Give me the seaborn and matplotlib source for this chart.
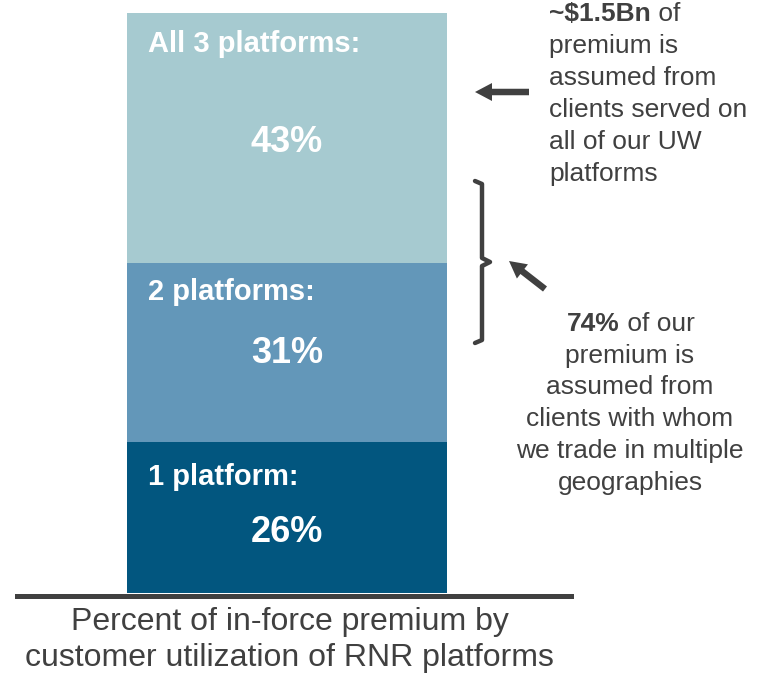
import numpy as np
import pandas as pd
import matplotlib.pyplot as plt
import seaborn as sns
from matplotlib.transforms import Affine2D
from matplotlib.patches import FancyArrow
from matplotlib.lines import Line2D

W, H, DPI = 763, 675, 100

# data
segments = ["1 platform:", "2 platforms:", "All 3 platforms:"]
shares = [26, 31, 43]
seg_colors = ["#02567F", "#6397B9", "#A6CAD0"]
bar_name = "RNR platforms"

note_top_bold = "~$1.5Bn"
note_top = ["of", "premium is", "assumed from", "clients served on", "all of our UW", "platforms"]
note_low_bold = "74%"
note_low = ["of our", "premium is", "assumed from", "clients with whom",
            "we trade in multiple", "geographies"]
caption = ["Percent of in-force premium by", "customer utilization of RNR platforms"]

# label placement inside each segment (distance below top, fraction of height)
label_drop = [7.3, 6.5, 6.7]
pct_frac = [0.34, 0.44, 0.443]

GREY = "#404040"

sns.set_style("white")
plt.rcParams["font.family"] = ["Liberation Sans", "DejaVu Sans"]

fig = plt.figure(figsize=(W / DPI, H / DPI), dpi=DPI)
ax = fig.add_axes([17 / W, 1 - 593.3 / H, 554 / W, 580.3 / H])
# pixel coords measured from the top-left corner
px = Affine2D().scale(1, -1).translate(0, H).scale(1 / DPI) + fig.dpi_scale_trans

df = pd.DataFrame({"segment": segments, "share": shares, "color": seg_colors})
df["top"] = df["share"].cumsum()
df["base"] = df["top"] - df["share"]

# stacked bar: draw cumulative totals, tallest first
for _, row in df.iloc[::-1].iterrows():
    sns.barplot(x=[bar_name], y=[row["top"]], color=row["color"], saturation=1,
                width=0.8, linewidth=0, ax=ax)

ax.set_xlim(-0.675, 0.71)
ax.set_ylim(0, 100)
ax.set(xticks=[], yticks=[], xlabel="", ylabel="")
for s in ["left", "right", "top"]:
    ax.spines[s].set_visible(False)
ax.spines["bottom"].set_color(GREY)
ax.spines["bottom"].set_linewidth(3.6)
ax.spines["bottom"].set_position(("outward", 1.8))

# labels inside the segments
for i, row in df.iterrows():
    ax.text(-0.3475, row["top"] - label_drop[i], row["segment"], color="white",
            fontsize=21, fontweight="bold", va="baseline", ha="left")
    ax.text(0.0, row["base"] + pct_frac[i] * row["share"], f"{row['share']}%",
            color="white", fontsize=26, fontweight="bold", va="baseline", ha="center")

# upper note
t = fig.text(549, 21, note_top_bold, transform=px, fontsize=19, fontweight="bold",
             color=GREY, va="baseline")
ax.annotate(" " + note_top[0], xy=(1, 0), xycoords=t, va="bottom", ha="left",
            fontsize=19, color=GREY, annotation_clip=False)
for i, line in enumerate(note_top[1:], start=1):
    fig.text(549, 21 + 32 * i, line, transform=px, fontsize=19, color=GREY,
             va="baseline", ha="left")

# lower note
t = fig.text(567, 330.7, note_low_bold, transform=px, fontsize=19, fontweight="bold",
             color=GREY, va="baseline")
ax.annotate(" " + note_low[0], xy=(1, 0), xycoords=t, va="bottom", ha="left",
            fontsize=19, color=GREY, annotation_clip=False)
for i, line in enumerate(note_low[1:], start=1):
    fig.text(630, 330.7 + 31.9 * i, line, transform=px, fontsize=19, color=GREY,
             va="baseline", ha="center")

# arrows and bracket
fig.add_artist(FancyArrow(529, 92, -54, 0, width=6.5, head_width=18, head_length=17,
                          length_includes_head=True, color=GREY, linewidth=0, transform=px))
fig.add_artist(FancyArrow(545, 289, -36, -28, width=6.5, head_width=18, head_length=17,
                          length_includes_head=True, color=GREY, linewidth=0, transform=px))
fig.add_artist(Line2D([475, 482, 482, 490, 482, 482, 475],
                      [181, 184, 258, 262, 266, 340, 343],
                      color=GREY, linewidth=3.2, solid_joinstyle="round",
                      solid_capstyle="round", transform=px))

# caption under the bar
fig.text(290, 630, caption[0], transform=px, fontsize=23, color=GREY,
         ha="center", va="baseline")
fig.text(289, 666, caption[1], transform=px, fontsize=23, color=GREY,
         ha="center", va="baseline")

fig.savefig("out.png", dpi=DPI)
